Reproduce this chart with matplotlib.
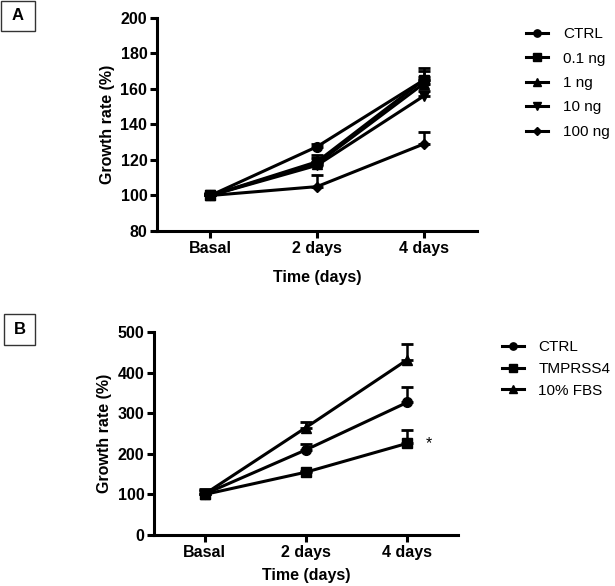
import matplotlib
matplotlib.use("Agg")
import matplotlib.pyplot as plt
from matplotlib.lines import Line2D
import numpy as np

plt.rcParams['font.family'] = ['Liberation Sans', 'DejaVu Sans']

categories = ["Basal", "2 days", "4 days"]

# Panel A
a_labels = ["CTRL", "0.1 ng", "1 ng", "10 ng", "100 ng"]
a_markers = ["o", "s", "^", "v", "D"]
a_ctrl = [100, 127.5, 165]
a_01 = [100, 119, 165]
a_1 = [100, 118, 163]
a_10 = [100, 117, 156]
a_100 = [100, 105, 129]
a_ctrl_err = [1, 1.5, 5]
a_01_err = [1.5, 4, 7]
a_1_err = [1, 3, 4]
a_10_err = [1, 2, 3]
a_100_err = [1, 6.5, 6.5]
a_yticks = [80, 100, 120, 140, 160, 180, 200]

# Panel B
b_labels = ["CTRL", "TMPRSS4", "10% FBS"]
b_markers = ["o", "s", "^"]
b_ctrl = [101, 210, 327]
b_tmprss4 = [100, 155, 226]
b_fbs = [101, 265, 432]
b_ctrl_err = [12, 14, 37]
b_tmprss4_err = [8, 4, 33]
b_fbs_err = [10, 15, 38]
b_yticks = [0, 100, 200, 300, 400, 500]

FS = 11.5
LFS = 11

fig = plt.figure(figsize=(6.15, 5.86), dpi=100)

def style_ax(ax, yticks, ylim, xlabelpad):
    x = np.arange(len(categories))
    ax.set_xlim(-0.5, 2.5)
    ax.set_ylim(*ylim)
    ax.set_xticks(x)
    ax.set_xticklabels(categories, fontsize=FS, fontweight='bold')
    ax.set_yticks(yticks)
    ax.set_yticklabels([str(v) for v in yticks], fontsize=FS, fontweight='bold')
    for s in ['top', 'right']:
        ax.spines[s].set_visible(False)
    for s in ['left', 'bottom']:
        ax.spines[s].set_linewidth(2.2)
    ax.tick_params(axis='both', direction='out', length=5, width=2.2, pad=2)
    ax.set_ylabel("Growth rate (%)", fontsize=FS, fontweight='bold', labelpad=4)
    ax.set_xlabel("Time (days)", fontsize=FS, fontweight='bold', labelpad=xlabelpad)

def draw(ax, series, errs, markers, labels, ms_list):
    x = np.arange(len(categories))
    handles = []
    for y, e, m, lab, ms in zip(series, errs, markers, labels, ms_list):
        ax.errorbar(x, y, yerr=[np.zeros(len(e)), e], color='black', lw=2.2,
                    marker=m, markersize=ms, capsize=4, capthick=2, elinewidth=1.8,
                    clip_on=False)
        handles.append(Line2D([], [], color='black', lw=2.2, marker=m,
                              markersize=ms * 0.75, label=lab))
    return handles

axA = fig.add_axes([0.2553, 0.6058, 0.5203, 0.3635])
style_ax(axA, a_yticks, (80, 200), 10)
hA = draw(axA, [a_ctrl, a_01, a_1, a_10, a_100],
          [a_ctrl_err, a_01_err, a_1_err, a_10_err, a_100_err],
          a_markers, a_labels, [7, 7, 7, 7, 5])
axA.legend(handles=hA, loc='upper left', bbox_to_anchor=(1.135, 0.985), frameon=False,
           fontsize=LFS, handlelength=1.45, handletextpad=0.95, labelspacing=0.68,
           borderaxespad=0)

axB = fig.add_axes([0.2504, 0.0870, 0.4938, 0.3459])
style_ax(axB, b_yticks, (0, 500), 6)
hB = draw(axB, [b_ctrl, b_tmprss4, b_fbs],
          [b_ctrl_err, b_tmprss4_err, b_fbs_err],
          b_markers, b_labels, [7, 7, 7])
axB.text(2.18, b_tmprss4[2], "*", fontsize=FS, va='center', ha='left')
axB.legend(handles=hB, loc='upper left', bbox_to_anchor=(1.125, 0.99), frameon=False,
           fontsize=LFS, handlelength=1.45, handletextpad=0.95, labelspacing=0.5,
           borderaxespad=0)

# Panel labels
for label, (x0, y0, w, h) in [("A", (1, 555, 34, 30)), ("B", (4, 241, 31, 31))]:
    fig.patches.append(plt.Rectangle((x0 / 615, y0 / 586), w / 615, h / 586,
                                     transform=fig.transFigure, fill=False,
                                     edgecolor='#333333', lw=1.0))
    fig.text((x0 + w / 2) / 615, (y0 + h / 2) / 586, label, fontsize=12,
             fontweight='bold', ha='center', va='center')

fig.savefig("out.png", dpi=100)
